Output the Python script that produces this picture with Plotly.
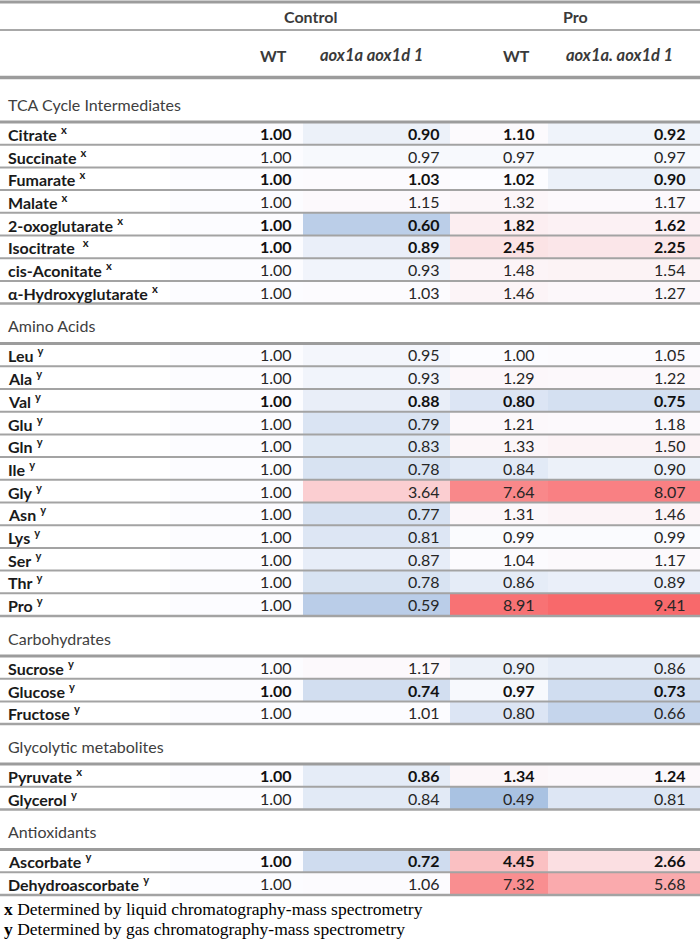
import plotly.graph_objects as go

# ---------------- data ----------------
section_titles = ["TCA Cycle Intermediates", "Amino Acids", "Carbohydrates",
                  "Glycolytic metabolites", "Antioxidants"]

tca_names = ["Citrate", "Succinate", "Fumarate", "Malate", "2-oxoglutarate",
             "Isocitrate ", "cis-Aconitate", "α-Hydroxyglutarate"]
tca_method = ["x", "x", "x", "x", "x", "x", "x", "x"]
tca_ctrl_wt = [1.00, 1.00, 1.00, 1.00, 1.00, 1.00, 1.00, 1.00]
tca_ctrl_aox = [0.90, 0.97, 1.03, 1.15, 0.60, 0.89, 0.93, 1.03]
tca_pro_wt = [1.10, 0.97, 1.02, 1.32, 1.82, 2.45, 1.48, 1.46]
tca_pro_aox = [0.92, 0.97, 0.90, 1.17, 1.62, 2.25, 1.54, 1.27]
tca_bold = [True, False, True, False, True, True, False, False]

aa_names = ["Leu", "Ala", "Val", "Glu", "Gln", "Ile", "Gly", "Asn", "Lys",
            "Ser", "Thr", "Pro"]
aa_method = ["y"] * 12
aa_ctrl_wt = [1.00] * 12
aa_ctrl_aox = [0.95, 0.93, 0.88, 0.79, 0.83, 0.78, 3.64, 0.77, 0.81, 0.87, 0.78, 0.59]
aa_pro_wt = [1.00, 1.29, 0.80, 1.21, 1.33, 0.84, 7.64, 1.31, 0.99, 1.04, 0.86, 8.91]
aa_pro_aox = [1.05, 1.22, 0.75, 1.18, 1.50, 0.90, 8.07, 1.46, 0.99, 1.17, 0.89, 9.41]
aa_bold = [False, False, True, False, False, False, False, False, False, False, False, False]

carb_names = ["Sucrose", "Glucose", "Fructose"]
carb_method = ["y", "y", "y"]
carb_ctrl_wt = [1.00, 1.00, 1.00]
carb_ctrl_aox = [1.17, 0.74, 1.01]
carb_pro_wt = [0.90, 0.97, 0.80]
carb_pro_aox = [0.86, 0.73, 0.66]
carb_bold = [False, True, False]

glyc_names = ["Pyruvate", "Glycerol"]
glyc_method = ["x", "y"]
glyc_ctrl_wt = [1.00, 1.00]
glyc_ctrl_aox = [0.86, 0.84]
glyc_pro_wt = [1.34, 0.49]
glyc_pro_aox = [1.24, 0.81]
glyc_bold = [True, False]

anti_names = ["Ascorbate", "Dehydroascorbate"]
anti_method = ["y", "y"]
anti_ctrl_wt = [1.00, 1.00]
anti_ctrl_aox = [0.72, 1.06]
anti_pro_wt = [4.45, 7.32]
anti_pro_aox = [2.66, 5.68]
anti_bold = [True, False]

group_titles = ["Control", "Pro"]
column_titles = ["WT", "aox1a aox1d 1", "WT", "aox1a. aox1d 1"]
footnotes = [("x", "Determined by liquid chromatography-mass spectrometry"),
             ("y", "Determined by gas chromatography-mass spectrometry")]

sections = [
    (tca_names, tca_method, [tca_ctrl_wt, tca_ctrl_aox, tca_pro_wt, tca_pro_aox], tca_bold),
    (aa_names, aa_method, [aa_ctrl_wt, aa_ctrl_aox, aa_pro_wt, aa_pro_aox], aa_bold),
    (carb_names, carb_method, [carb_ctrl_wt, carb_ctrl_aox, carb_pro_wt, carb_pro_aox], carb_bold),
    (glyc_names, glyc_method, [glyc_ctrl_wt, glyc_ctrl_aox, glyc_pro_wt, glyc_pro_aox], glyc_bold),
    (anti_names, anti_method, [anti_ctrl_wt, anti_ctrl_aox, anti_pro_wt, anti_pro_aox], anti_bold),
]

# ---------------- layout constants ----------------
W, H = 700, 944
FONT = "Lato"
FS = 16
col_edges = [170, 303, 450, 548, 700]
val_pad = [9, 8, 11, 12]
ROW_H = 22.7
SEC_H = 40
table_top = 82

# build rows
y_edges = [table_top]
z_rows, row_kinds = [], []
cur = table_top
for (names, meth, cols, bold), title in zip(sections, section_titles):
    y_edges.append(cur + SEC_H)
    cur += SEC_H
    z_rows.append([None] * 4)
    row_kinds.append(("sec", title))
    for i, n in enumerate(names):
        y_edges.append(cur + ROW_H)
        cur += ROW_H
        z_rows.append([c[i] for c in cols])
        row_kinds.append(("row", n, meth[i], bold[i]))
table_bottom = cur

all_vals = [v for r in z_rows for v in r if v is not None]
zmax = max(all_vals)

fig = go.Figure()
fig.add_trace(go.Heatmap(
    x=col_edges, y=y_edges, z=z_rows,
    zmin=0, zmax=zmax,
    colorscale=[[0, "#5A8AC6"], [1.0 / zmax, "#FCFCFF"], [1, "#F8696B"]],
    showscale=False, hoverinfo="skip",
))

ann = []
shapes = []

def hline(y, w, c):
    shapes.append(dict(type="line", xref="x", yref="y", x0=0, x1=W, y0=y, y1=y,
                       line=dict(color=c, width=w)))

# header
hline(2, 3, "#9C9C9C")
hline(30, 2, "#A8A8A8")
hline(77.5, 3.5, "#9C9C9C")
grp_centers = [(col_edges[0] + col_edges[2]) / 2, (col_edges[2] + col_edges[4]) / 2]
for t, xc in zip(group_titles, grp_centers):
    ann.append(dict(x=xc, y=16, text=f"<b>{t}</b>", xanchor="center",
                    font=dict(size=FS, color="#3a3a3a", family=FONT)))
for j, t in enumerate(column_titles):
    if t == "WT":
        xr = col_edges[j + 1] - val_pad[j] - 5
        ann.append(dict(x=xr, y=55, text=f"<b>{t}</b>", xanchor="right",
                        font=dict(size=FS, color="#3a3a3a", family=FONT)))
    else:
        xc = (col_edges[j] + col_edges[j + 1]) / 2 - 5
        ann.append(dict(x=xc, y=55, text=f"<b><i>{t}</i></b>", xanchor="center",
                        font=dict(size=FS + 0.5, color="#3a3a3a", family=FONT)))

for k, kind in enumerate(row_kinds):
    y0, y1 = y_edges[k], y_edges[k + 1]
    yc = (y0 + y1) / 2
    if kind[0] == "sec":
        ann.append(dict(x=6, y=yc + 2, text=kind[1], xanchor="left",
                        font=dict(size=FS, color="#404040", family=FONT)))
        hline(y1, 3, "#9C9C9C")
    else:
        _, name, meth, bold = kind
        ann.append(dict(x=6, y=yc, text=f"<b>{name}</b> <sup><b>{meth}</b></sup>",
                        xanchor="left",
                        font=dict(size=FS, color="#1a1a1a", family=FONT)))
        for j, v in enumerate(z_rows[k]):
            s = f"{v:.2f}"
            if bold:
                s = f"<b>{s}</b>"
            ann.append(dict(x=col_edges[j + 1] - val_pad[j], y=yc, text=s,
                            xanchor="right",
                            font=dict(size=FS, color="#262626" if not bold else "#111111",
                                      family=FONT)))
        nxt = row_kinds[k + 1][0] if k + 1 < len(row_kinds) else "end"
        hline(y1, 2.5 if nxt != "row" else 2, "#A3A3A3")

for i, (m, t) in enumerate(footnotes):
    ann.append(dict(x=2, y=table_bottom + 14 + i * 20.5, text=f"<b>{m}</b> {t}",
                    xanchor="left",
                    font=dict(size=17.5, color="#000000", family="Liberation Serif")))

for a in ann:
    a.update(xref="x", yref="y", showarrow=False, yanchor="middle")

fig.update_layout(
    width=W, height=H,
    margin=dict(l=0, r=0, t=0, b=0),
    paper_bgcolor="white", plot_bgcolor="white",
    xaxis=dict(range=[0, W], visible=False, fixedrange=True),
    yaxis=dict(range=[H, 0], visible=False, fixedrange=True),
    annotations=ann, shapes=shapes,
    showlegend=False,
)
fig.write_html(
    "out.html",
    config={"displayModeBar": False, "staticPlot": True},
    post_script="document.body.style.margin='0';document.body.style.padding='0';"
                "document.documentElement.style.overflow='hidden';",
)
